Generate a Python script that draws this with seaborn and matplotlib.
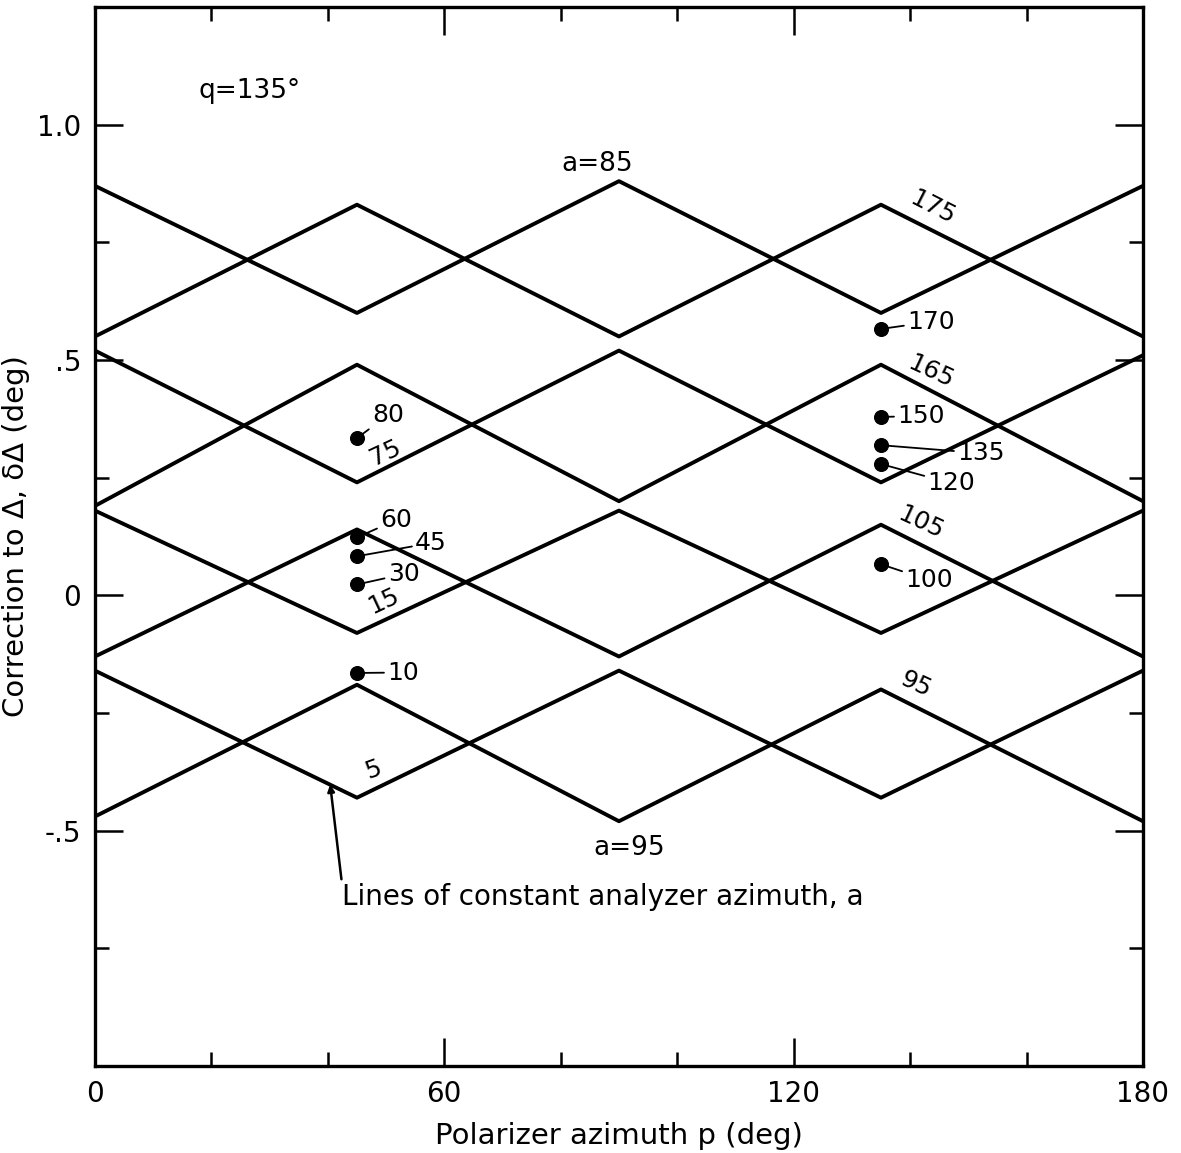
import pandas as pd
import matplotlib.pyplot as plt
import seaborn as sns

# polarizer azimuth where the lines break
P_AZ = [0, 45, 90, 135, 180]

# lines of constant analyzer azimuth a (delta correction, deg)
A5 = [-0.16, -0.43, -0.16, -0.43, -0.16]
A15 = [0.18, -0.08, 0.18, -0.08, 0.18]
A75 = [0.52, 0.24, 0.52, 0.24, 0.51]
A85 = [0.87, 0.60, 0.88, 0.60, 0.87]
A95 = [-0.47, -0.19, -0.48, -0.20, -0.48]
A105 = [-0.13, 0.14, -0.13, 0.15, -0.13]
A165 = [0.19, 0.49, 0.20, 0.49, 0.20]
A175 = [0.55, 0.83, 0.55, 0.83, 0.55]

# single points
PT_A = [10, 30, 45, 60, 80, 100, 120, 135, 150, 170]
PT_P = [45, 45, 45, 45, 45, 135, 135, 135, 135, 135]
PT_D = [-0.165, 0.023, 0.083, 0.123, 0.334, 0.066, 0.279, 0.319, 0.379, 0.566]

sns.set_style("ticks")
plt.rcParams["font.family"] = ["DejaVu Sans"]
plt.rcParams.update({"text.color": "black", "axes.labelcolor": "black",
                     "xtick.color": "black", "ytick.color": "black",
                     "axes.edgecolor": "black"})

lineas = {5: A5, 15: A15, 75: A75, 85: A85, 95: A95, 105: A105, 165: A165, 175: A175}
df = pd.DataFrame([(a, p, d) for a, vals in lineas.items() for p, d in zip(P_AZ, vals)],
                  columns=["a", "p", "delta"])
dfPts = pd.DataFrame({"a": PT_A, "p": PT_P, "delta": PT_D})

fig = plt.figure(figsize=(11.81, 11.53), dpi=100)
ax = fig.add_axes([0.0804, 0.0755, 0.8874, 0.9184])

sns.lineplot(data=df, x="p", y="delta", units="a", estimator=None, color="black",
             linewidth=2.8, ax=ax, legend=False)
sns.scatterplot(data=dfPts, x="p", y="delta", color="black", s=100, edgecolor="black",
                ax=ax, legend=False, zorder=5)

ax.set_xlim(0, 180)
ax.set_ylim(-1.0, 1.25)
ax.set_xticks([0, 60, 120, 180])
ax.set_xticks([20, 40, 80, 100, 140, 160], minor=True)
ax.set_yticks([-0.5, 0, 0.5, 1.0])
ax.set_yticklabels(["-.5", "0", ".5", "1.0"])
ax.set_yticks([-0.75, -0.25, 0.25, 0.75], minor=True)
ax.tick_params(which="both", direction="in", top=True, right=True, width=1.8, labelsize=20)
ax.tick_params(which="major", length=20, pad=10)
ax.tick_params(which="minor", length=10)
for s in ax.spines.values():
    s.set_linewidth(2.4)

ax.set_xlabel("Polarizer azimuth p (deg)", fontsize=21, labelpad=10)
ax.set_ylabel("Correction to \u0394, \u03b4\u0394 (deg)", fontsize=21)
ax.yaxis.set_label_coords(-0.062, 0.5)

# labels on the lines
ax.text(26.6, 1.072, "q=135\u00b0", fontsize=19, ha="center", va="center")
ax.text(86.3, 0.917, "a=85", fontsize=19, ha="center", va="center")
ax.text(91.8, -0.537, "a=95", fontsize=19, ha="center", va="center")
etiquetas = [(143.9, 0.823, "175", -27), (143.6, 0.475, "165", -25),
             (141.8, 0.155, "105", -25), (140.9, -0.189, "95", -25),
             (49.8, 0.302, "75", 25), (49.5, -0.013, "15", 25), (47.8, -0.37, "5", 20)]
for x, y, t, r in etiquetas:
    ax.text(x, y, t, fontsize=18, ha="center", va="center", rotation=r)

# labels on the points with short leaders
posTexto = {80: (47.6, 0.383), 60: (49.0, 0.16), 45: (55.0, 0.111), 30: (50.3, 0.045),
            10: (50.2, -0.164), 170: (139.5, 0.581), 150: (137.8, 0.381),
            135: (148.1, 0.302), 120: (143.0, 0.238), 100: (139.2, 0.032)}
for a, p, d in zip(PT_A, PT_P, PT_D):
    tx, ty = posTexto[a]
    ax.annotate(str(a), xy=(p, d), xytext=(tx, ty), fontsize=18, ha="left", va="center",
                arrowprops=dict(arrowstyle="-", color="black", lw=1.3, shrinkA=0, shrinkB=3))

ax.annotate("Lines of constant analyzer azimuth, a", xy=(40.4, -0.402), xytext=(42.4, -0.64),
            fontsize=20, ha="left", va="center",
            arrowprops=dict(arrowstyle="-|>", color="black", lw=1.8, mutation_scale=10,
                            shrinkA=0, shrinkB=0, relpos=(0.0, 1.0)))

plt.savefig("out.png", dpi=100)
